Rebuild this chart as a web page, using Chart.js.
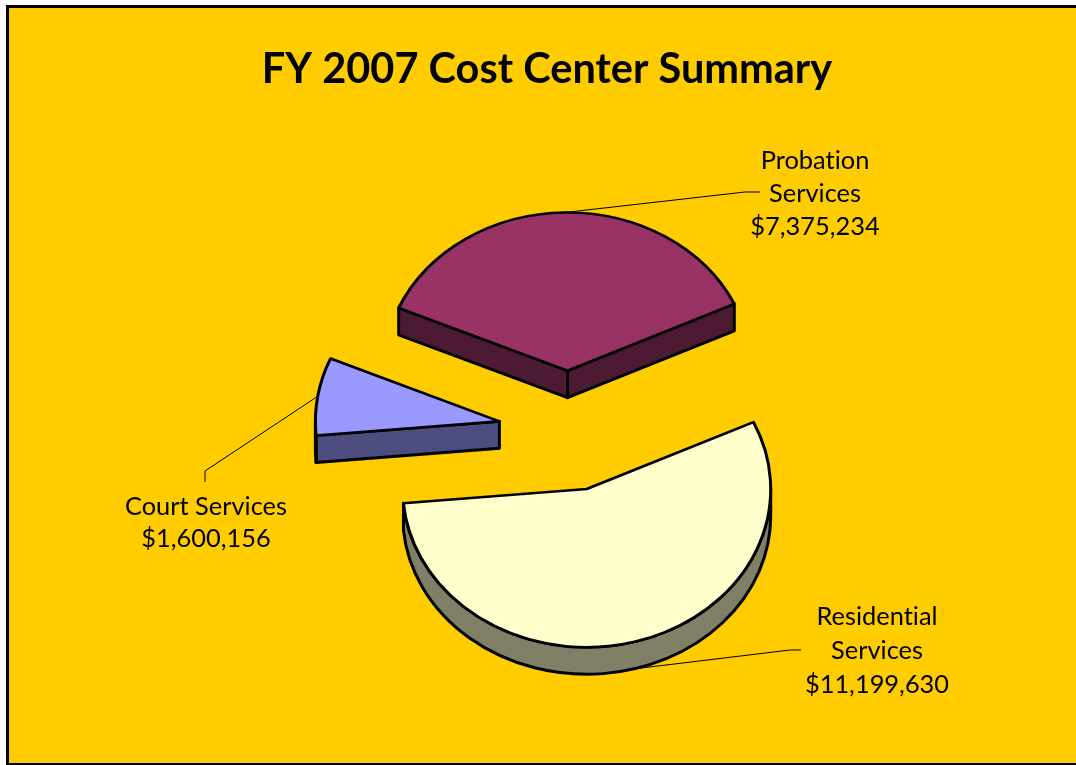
<!DOCTYPE html>
<html><head><meta charset="utf-8">
<style>
html,body{margin:0;padding:0;background:#fff;width:1076px;height:765px;overflow:hidden}
#panel{position:absolute;left:6px;top:5px;width:1070px;height:760px;box-sizing:border-box;background:#ffcc00;border-left:3px solid #000;border-top:3px solid #000;border-bottom:2px solid #000}
#wrap{position:absolute;left:0;top:0;width:1076px;height:765px}
</style>
<script src="https://cdn.jsdelivr.net/npm/chart.js@4"></script>
</head><body>
<div id="panel"></div>
<div id="wrap"><canvas id="c" width="1076" height="765"></canvas></div>
<script>
const chartTitle = 'FY 2007 Cost Center Summary';
const categories = [['Residential','Services'],['Court Services'],['Probation','Services']];
const costs = [11199630, 1600156, 7375234];
const faceColors = ['#ffffcc','#9999ff','#993366'];
const wallColors = ['#808066','#4d4d80','#4d1a33'];

const SQUASH = 0.86, DEPTH = 27, EXPLODE = 70, SHIFT_X = 21.5;
const labelFont = '25.4px Lato';
const labelLayout = [
  {x:877, y:617, elbow:[[790,650],[801,650]], base:true},
  {x:206, y:507, elbow:[[205,471],[205,482]], base:false},
  {x:815, y:161, elbow:[[745,192],[760,192]], base:false}
];
const lineGap = [34,32,33];
const money = v => '$' + v.toLocaleString('en-US');

const tilted = {
  id:'tilted',
  beforeDatasetDraw(chart){
    const ctx = chart.ctx, arcs = chart.getDatasetMeta(0).data;
    const slices = arcs.map((arc,i)=>{
      const mid = (arc.startAngle+arc.endAngle)/2;
      return {arc,i,mid,
        x0:arc.x+SHIFT_X+Math.cos(mid)*EXPLODE,
        y0:arc.y+Math.sin(mid)*EXPLODE*SQUASH,
        r:arc.outerRadius};
    });
    // leader lines
    ctx.save();
    ctx.strokeStyle='#000';ctx.lineWidth=1;
    slices.forEach(s=>{
      const lay=labelLayout[s.i];
      ctx.beginPath();
      ctx.moveTo(s.x0+Math.cos(s.mid)*s.r, s.y0+Math.sin(s.mid)*s.r*SQUASH+(lay.base?DEPTH:0));
      lay.elbow.forEach(p=>ctx.lineTo(p[0],p[1]));
      ctx.stroke();
    });
    ctx.restore();
    // back to front
    slices.slice().sort((a,b)=>a.y0-b.y0).forEach(s=>{
      const {arc,x0,y0,r}=s, a=arc.startAngle, b=arc.endAngle, ry=r*SQUASH;
      ctx.save();
      ctx.fillStyle=wallColors[s.i];ctx.strokeStyle='#000';ctx.lineWidth=3;ctx.lineJoin='round';
      const quad=(p,q)=>{ctx.beginPath();ctx.moveTo(p[0],p[1]);ctx.lineTo(q[0],q[1]);ctx.lineTo(q[0],q[1]+DEPTH);ctx.lineTo(p[0],p[1]+DEPTH);ctx.closePath();ctx.fill();ctx.stroke();};
      const rim=t=>[x0+Math.cos(t)*r,y0+Math.sin(t)*ry];
      if(Math.cos(a)<0) quad([x0,y0],rim(a));
      if(Math.cos(b)>0) quad([x0,y0],rim(b));
      [-2,0,2].forEach(k=>{
        const lo=Math.max(a,k*Math.PI), hi=Math.min(b,(k+1)*Math.PI);
        if(hi>lo){
          ctx.beginPath();
          ctx.ellipse(x0,y0,r,ry,0,lo,hi);
          ctx.ellipse(x0,y0+DEPTH,r,ry,0,hi,lo,true);
          ctx.closePath();ctx.fill();ctx.stroke();
        }
      });
      ctx.translate(x0,y0);ctx.scale(1,SQUASH);ctx.translate(-arc.x,-arc.y);
      arc.draw(ctx);
      ctx.restore();
    });
    // labels
    ctx.save();
    ctx.font=labelFont;ctx.fillStyle='#000';ctx.textAlign='center';ctx.textBaseline='middle';
    ctx.letterSpacing='0.01px';
    categories.forEach((lines,i)=>{
      const lay=labelLayout[i];
      [...lines,money(costs[i])].forEach((t,n)=>ctx.fillText(t,lay.x,lay.y+n*lineGap[i]));
    });
    ctx.restore();
    return false;
  }
};

new Chart(document.getElementById('c'),{
  type:'pie',
  data:{labels:categories.map(l=>l.join(' ')),datasets:[{data:costs,backgroundColor:faceColors,borderColor:'#000',borderWidth:3,borderJoinStyle:'round'}]},
  plugins:[tilted],
  options:{
    responsive:false,animation:false,rotation:65,radius:184,
    layout:{padding:{left:18,right:0,top:0,bottom:6}},
    plugins:{
      legend:{display:false},tooltip:{enabled:false},
      title:{display:true,text:chartTitle,color:'#000',align:'center',
        font:{family:'Lato',size:41.5,weight:'bold',lineHeight:1.2},
        padding:{top:45,bottom:8}}
    }
  }
});
</script>
</body></html>
